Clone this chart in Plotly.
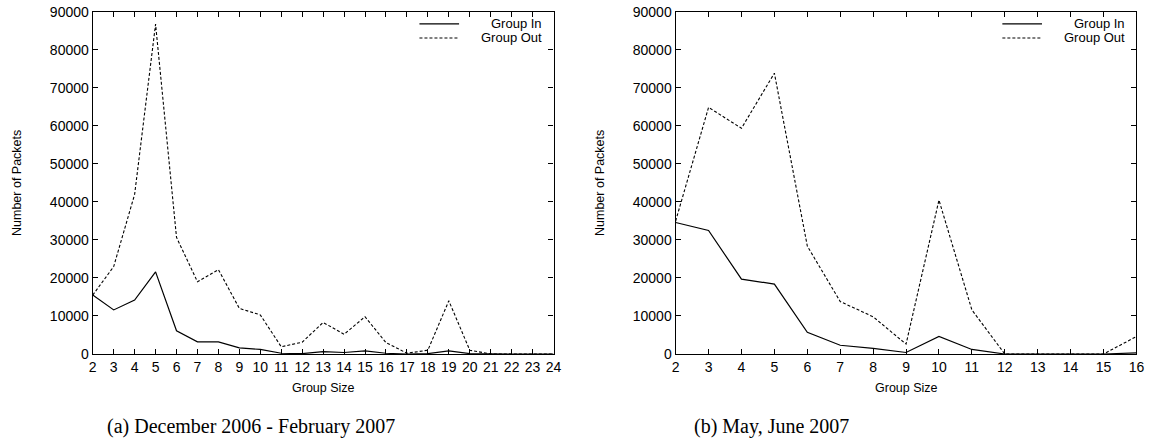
import plotly.graph_objects as go

# ---- data ----
sizes_a = list(range(2, 25))
group_in_a = [15500, 11600, 14200, 21600, 6100, 3200, 3200, 1600, 1200, 200, 100,
              600, 400, 800, 200, 0, 100, 800, 100, 0, 0, 0, 0]
group_out_a = [15500, 23000, 42000, 86800, 30700, 19000, 22200, 12000, 10300, 1900, 3100,
               8300, 5200, 9800, 3000, 200, 1000, 14000, 1000, 0, 0, 0, 0]

sizes_b = list(range(2, 17))
group_in_b = [34600, 32500, 19700, 18400, 5700, 2300, 1500, 400, 4600, 1200, 0, 0, 0, 0, 300]
group_out_b = [35000, 64900, 59400, 73900, 28400, 13800, 9800, 2600, 40500, 11600, 0, 0, 0, 0, 4600]

series_names = ["Group In", "Group Out"]
captions = ["(a) December 2006 - February 2007", "(b) May, June 2007"]
x_title = "Group Size"
y_title = "Number of Packets"
y_ticks = list(range(0, 90001, 10000))

SANS = "Liberation Sans, Arial, sans-serif"
SERIF = "Liberation Serif, Times New Roman, serif"
DASH = "3px,2px"

fig = go.Figure()

panels = [
    (sizes_a, group_in_a, group_out_a, "x", "y", [0.0805, 0.4805]),
    (sizes_b, group_in_b, group_out_b, "x2", "y2", [0.5865, 0.9865]),
]

for sizes, gin, gout, xa, ya, dom in panels:
    fig.add_trace(go.Scatter(x=sizes, y=gin, mode="lines", name=series_names[0],
                             line=dict(color="black", width=1.2), xaxis=xa, yaxis=ya,
                             showlegend=False))
    fig.add_trace(go.Scatter(x=sizes, y=gout, mode="lines", name=series_names[1],
                             line=dict(color="black", width=1.1, dash=DASH), xaxis=xa, yaxis=ya,
                             showlegend=False))

ydom = [0.2027, 0.973]
axis_common = dict(showline=True, linecolor="black", linewidth=1.3, mirror="ticks",
                   ticks="inside", ticklen=5, tickcolor="black", tickwidth=1,
                   showgrid=False, zeroline=False, automargin=False,
                   tickfont=dict(family=SANS, size=14, color="black"))

fig.update_layout(
    width=1152, height=444,
    margin=dict(l=0, r=0, t=0, b=0),
    paper_bgcolor="white", plot_bgcolor="white",
    xaxis=dict(domain=panels[0][5], range=[2, 24], tickmode="array", tickvals=sizes_a,
               anchor="y", **axis_common),
    yaxis=dict(domain=ydom, range=[0, 90000], tickmode="array", tickvals=y_ticks,
               tickformat="d", anchor="x", **axis_common),
    xaxis2=dict(domain=panels[1][5], range=[2, 16], tickmode="array", tickvals=sizes_b,
                anchor="y2", **axis_common),
    yaxis2=dict(domain=ydom, range=[0, 90000], tickmode="array", tickvals=y_ticks,
                tickformat="d", anchor="x2", **axis_common),
    showlegend=False,
)

annotations = []
shapes = []
for i, (xa, ya, dom) in enumerate([("x", "y", panels[0][5]), ("x2", "y2", panels[1][5])]):
    xd = xa + " domain"
    yd = ya + " domain"
    # legend (gnuplot style, text right-aligned)
    for j, (name, yy) in enumerate([(series_names[0], 0.965), (series_names[1], 0.924)]):
        annotations.append(dict(xref=xd, yref=yd, x=0.979, y=yy, text=name, showarrow=False,
                                xanchor="right", yanchor="middle",
                                font=dict(family=SANS, size=13, color="black")))
        shapes.append(dict(type="line", xref=xd, yref=yd, x0=0.709, x1=0.795, y0=yy, y1=yy,
                           line=dict(color="black", width=1.2 if j == 0 else 1.1,
                                     dash="solid" if j == 0 else DASH)))
    cx = (dom[0] + dom[1]) / 2
    # x axis title
    annotations.append(dict(xref="paper", yref="paper", x=cx, y=(444 - 388) / 444, text=x_title,
                            showarrow=False, xanchor="center", yanchor="middle",
                            font=dict(family=SANS, size=12.5, color="black")))
    # y axis title
    ytx = (17 if i == 0 else 600) / 1152
    annotations.append(dict(xref="paper", yref="paper", x=ytx, y=(444 - 183) / 444, text=y_title,
                            showarrow=False, textangle=-90, xanchor="center", yanchor="middle",
                            font=dict(family=SANS, size=12.5, color="black")))
    # caption
    capx = (251 if i == 0 else 771) / 1152
    annotations.append(dict(xref="paper", yref="paper", x=capx, y=(444 - 426) / 444, text=captions[i],
                            showarrow=False, xanchor="center", yanchor="middle",
                            font=dict(family=SERIF, size=20, color="black")))

fig.update_layout(annotations=annotations, shapes=shapes)

fig.write_html("out.html")
